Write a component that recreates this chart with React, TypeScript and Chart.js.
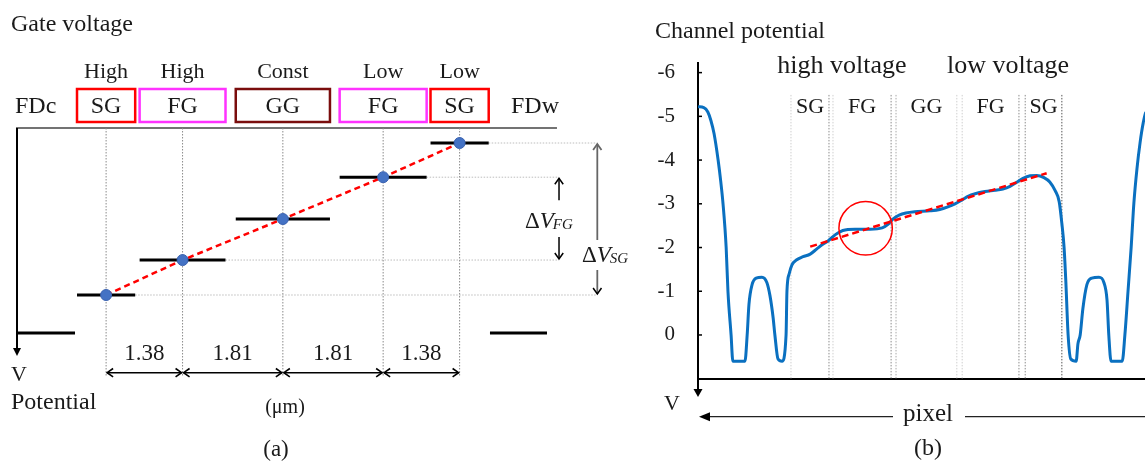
import React, { useEffect, useRef } from 'react';
import { Chart, registerables } from 'chart.js';
Chart.register(...registerables);

const FONT = '"Liberation Serif", "Times New Roman", serif';
const TXT = '#1a1a1a';

// ---------- Panel (a) data ----------
const gateNames = ['SG', 'FG', 'GG', 'FG', 'SG'];
const gateStates = ['High', 'High', 'Const', 'Low', 'Low'];
const gateSpacing = [1.38, 1.81, 1.81, 1.38]; // µm between gate centres
const gateLengths = [1.05, 1.55, 1.7, 1.57, 1.05]; // µm
const gateLevels = [1.0, 1.92, 3.0, 4.1, 5.0]; // potential under each gate
const fdLevel = 0;
const fdcSpan = [-1.608, -0.561];
const fdwSpan = [6.928, 7.957];
const spacingLabels = ['1.38', '1.81', '1.81', '1.38'];

// ---------- Panel (b) data ----------
const pixelIdx = [0, 1.3, 2.2, 2.9, 3.6, 4.5, 5.1, 5.6, 6.3, 6.7, 7.4, 7.8, 10.5, 11.0, 11.4, 12.1, 13.0, 14.3, 15.4, 16.1, 16.8, 17.2, 17.9, 18.8, 19.7, 19.9, 20.4, 21.0, 22.1, 23.5, 25.1, 26.6, 28.0, 29.1, 30.2, 31.3, 32.4, 35.1, 38.5, 41.2, 42.5, 43.6, 45.0, 46.5, 48.5, 51.9, 54.1, 55.9, 57.5, 59.1, 60.4, 62.0, 64.2, 66.4, 68.2, 69.8, 71.4, 72.7, 74.3, 75.8, 77.4, 78.7, 79.9, 80.8, 81.4, 81.9, 82.3, 82.8, 83.4, 84.6, 85.0, 85.5, 86.1, 87.0, 88.1, 89.7, 90.8, 91.5, 91.9, 92.4, 94.9, 95.5, 96.2, 96.9, 97.5, 98.2, 98.9, 99.6, 100.2, 101.1];
const potential = [-5.22, -5.2, -5.1, -4.9, -4.6, -4.0, -3.5, -3.0, -2.0, -1.0, 0, 0.6, 0.6, 0.0, -0.7, -1.15, -1.3, -1.32, -1.2, -0.9, -0.4, 0, 0.55, 0.6, 0, -1.0, -1.4, -1.6, -1.72, -1.79, -1.85, -1.97, -2.08, -2.15, -2.25, -2.33, -2.39, -2.42, -2.42, -2.45, -2.53, -2.65, -2.74, -2.79, -2.82, -2.84, -2.87, -2.93, -3.0, -3.09, -3.17, -3.23, -3.28, -3.31, -3.34, -3.4, -3.5, -3.58, -3.64, -3.65, -3.6, -3.5, -3.3, -3.05, -2.55, -2.0, -1.2, 0, 0.55, 0.6, 0.2, 0, -0.6, -1.15, -1.3, -1.32, -1.2, -0.8, 0, 0.6, 0.6, 0, -1.0, -2.0, -3.0, -3.8, -4.4, -4.85, -5.1, -5.2];
const trendX = [25.1, 78.0];
const trendY = [-2.02, -3.7];
const circleCenter = { x: 37.5, y: -2.44 };
const boundaries = [20.8, 29.3, 30.2, 43.2, 44.3, 57.9, 59.1, 71.8, 73.2, 81.4];
const boundaryShade = ['#cfcfcf', '#8c8c8c', '#cfcfcf', '#8c8c8c', '#a8a8a8', '#cfcfcf', '#cfcfcf', '#8c8c8c', '#8c8c8c', '#555555'];
const yTicks = [-6, -5, -4, -3, -2, -1, 0];

function line(ctx: CanvasRenderingContext2D, x1: number, y1: number, x2: number, y2: number) {
  ctx.beginPath();
  ctx.moveTo(x1, y1);
  ctx.lineTo(x2, y2);
  ctx.stroke();
}
function chevron(ctx: CanvasRenderingContext2D, x: number, y: number, dir: string, s: number) {
  ctx.beginPath();
  if (dir === 'r') { ctx.moveTo(x - s, y - s * 0.7); ctx.lineTo(x, y); ctx.lineTo(x - s, y + s * 0.7); }
  if (dir === 'l') { ctx.moveTo(x + s, y - s * 0.7); ctx.lineTo(x, y); ctx.lineTo(x + s, y + s * 0.7); }
  if (dir === 'u') { ctx.moveTo(x - s * 0.7, y + s); ctx.lineTo(x, y); ctx.lineTo(x + s * 0.7, y + s); }
  if (dir === 'd') { ctx.moveTo(x - s * 0.7, y - s); ctx.lineTo(x, y); ctx.lineTo(x + s * 0.7, y - s); }
  ctx.stroke();
}
function tri(ctx: CanvasRenderingContext2D, x: number, y: number, dir: string, len: number, half: number) {
  ctx.beginPath();
  ctx.moveTo(x, y);
  if (dir === 'd') { ctx.lineTo(x - half, y - len); ctx.lineTo(x + half, y - len); }
  if (dir === 'l') { ctx.lineTo(x + len, y - half); ctx.lineTo(x + len, y + half); }
  ctx.closePath();
  ctx.fill();
}
function text(ctx: CanvasRenderingContext2D, s: string, x: number, y: number, size: number, align: CanvasTextAlign = 'left', style = '') {
  ctx.font = `${style} ${size}px ${FONT}`;
  ctx.textAlign = align;
  ctx.textBaseline = 'alphabetic';
  ctx.fillStyle = TXT;
  ctx.fillText(s, x, y);
}
function deltaV(ctx: CanvasRenderingContext2D, x: number, base: number, sub: string) {
  ctx.fillStyle = TXT;
  ctx.textAlign = 'left';
  ctx.textBaseline = 'alphabetic';
  ctx.font = `23px ${FONT}`;
  ctx.fillText('Δ', x, base);
  let w = ctx.measureText('Δ').width;
  ctx.font = `italic 23px ${FONT}`;
  ctx.fillText('V', x + w, base);
  w += ctx.measureText('V').width;
  ctx.font = `italic 15px ${FONT}`;
  ctx.fillText(sub, x + w - 1, base + 1);
}

export default function App() {
  const refA = useRef<HTMLCanvasElement>(null);
  const refB = useRef<HTMLCanvasElement>(null);

  useEffect(() => {
    // ---------- Panel (a) ----------
    const centers = gateSpacing.reduce((acc: number[], s) => { acc.push(acc[acc.length - 1] + s); return acc; }, [0]);
    const frameTop = 5.395;
    const frameLeft = -1.608;
    const frameRight = 8.137;
    const dimLevel = -1.045;
    const dimBottom = -1.13;
    const fgArrowX = 8.174;
    const sgArrowX = 8.865;
    const pts = centers.map((c, i) => ({ x: c, y: gateLevels[i] }));
    const dsA: any[] = [];
    dsA.push({ data: pts, showLine: false, pointRadius: 5.5, pointBackgroundColor: '#4472c4', pointBorderColor: '#3a62b0', pointBorderWidth: 1, order: 0 });
    dsA.push({ data: pts, borderColor: '#ff0000', borderWidth: 2.5, borderDash: [6, 4], pointRadius: 0, order: 1 });
    centers.forEach((c, i) => dsA.push({ data: [{ x: c - gateLengths[i] / 2, y: gateLevels[i] }, { x: c + gateLengths[i] / 2, y: gateLevels[i] }], borderColor: '#000', borderWidth: 3, pointRadius: 0, order: 2 }));
    [fdcSpan, fdwSpan].forEach(s => dsA.push({ data: [{ x: s[0], y: fdLevel }, { x: s[1], y: fdLevel }], borderColor: '#000', borderWidth: 3, pointRadius: 0, order: 2 }));
    centers.forEach(c => dsA.push({ data: [{ x: c, y: frameTop }, { x: c, y: dimBottom }], borderColor: '#8a8a8a', borderWidth: 1, borderDash: [1.5, 1.5], pointRadius: 0, order: 5 }));
    const guides = [[0, sgArrowX], [1, fgArrowX], [3, fgArrowX], [4, sgArrowX]];
    guides.forEach(([i, to]) => dsA.push({ data: [{ x: centers[i] + gateLengths[i] / 2, y: gateLevels[i] }, { x: to, y: gateLevels[i] }], borderColor: '#bdbdbd', borderWidth: 1, borderDash: [1.5, 1.5], pointRadius: 0, order: 6 }));

    const pluginA = {
      id: 'panelA',
      beforeDatasetsDraw(chart: any) {
        const { ctx, scales: { x, y } } = chart;
        ctx.save();
        const yT = y.getPixelForValue(frameTop);
        ctx.strokeStyle = '#444';
        ctx.lineWidth = 1.5;
        line(ctx, x.getPixelForValue(frameLeft) - 1, yT, x.getPixelForValue(frameRight), yT);
        ctx.strokeStyle = '#000';
        ctx.lineWidth = 2;
        const xl = x.getPixelForValue(frameLeft);
        line(ctx, xl, yT, xl, 349);
        ctx.fillStyle = '#000';
        tri(ctx, xl, 356, 'd', 8, 4);
        ctx.restore();
      },
      afterDatasetsDraw(chart: any) {
        const { ctx, scales: { x, y } } = chart;
        ctx.save();
        text(ctx, 'Gate voltage', 11, 31, 24);
        centers.forEach((c, i) => {
          const px = x.getPixelForValue(c);
          const x1 = x.getPixelForValue(c - gateLengths[i] / 2);
          const x2 = x.getPixelForValue(c + gateLengths[i] / 2);
          text(ctx, gateStates[i], px, 78, 22, 'center');
          ctx.fillStyle = '#fff';
          ctx.fillRect(x1, 89, x2 - x1, 33);
          ctx.strokeStyle = gateNames[i] === 'SG' ? '#ff0000' : gateNames[i] === 'FG' ? '#ff33ff' : '#7a0d0d';
          ctx.lineWidth = 2.5;
          ctx.strokeRect(x1, 89, x2 - x1, 33);
          text(ctx, gateNames[i], px, 113, 24, 'center');
        });
        text(ctx, 'FDc', 15, 113, 24);
        text(ctx, 'FDw', 511, 113, 24);
        // dimension arrows
        const yd = y.getPixelForValue(dimLevel);
        ctx.strokeStyle = '#000';
        ctx.lineWidth = 1.6;
        for (let i = 0; i < gateSpacing.length; i++) {
          const a = x.getPixelForValue(centers[i]) + 1;
          const b = x.getPixelForValue(centers[i + 1]) - 1;
          line(ctx, a, yd, b, yd);
          chevron(ctx, a, yd, 'l', 6);
          chevron(ctx, b, yd, 'r', 6);
          text(ctx, spacingLabels[i], (a + b) / 2, 360, 23, 'center');
        }
        // delta V FG
        const fx = x.getPixelForValue(fgArrowX);
        const y4 = y.getPixelForValue(gateLevels[3]);
        const y2 = y.getPixelForValue(gateLevels[1]);
        ctx.strokeStyle = '#000';
        ctx.lineWidth = 1.5;
        line(ctx, fx, y4 + 1, fx, y4 + 23);
        chevron(ctx, fx, y4 + 1, 'u', 6);
        line(ctx, fx, y2 - 1, fx, y2 - 23);
        chevron(ctx, fx, y2 - 1, 'd', 6);
        deltaV(ctx, 525, 228, 'FG');
        // delta V SG
        const sx = x.getPixelForValue(sgArrowX);
        const y5 = y.getPixelForValue(gateLevels[4]);
        const y1 = y.getPixelForValue(gateLevels[0]);
        ctx.strokeStyle = '#666';
        ctx.lineWidth = 1.8;
        line(ctx, sx, y5 + 1, sx, y1 - 1);
        chevron(ctx, sx, y5 + 1, 'u', 6);
        ctx.strokeStyle = '#000';
        ctx.lineWidth = 1.5;
        chevron(ctx, sx, y1 - 1, 'd', 6);
        ctx.fillStyle = '#fff';
        ctx.fillRect(580, 240, 58, 30);
        deltaV(ctx, 582, 262, 'SG');
        text(ctx, 'V', 11, 381, 22);
        text(ctx, 'Potential', 11, 409, 24);
        text(ctx, '(μm)', 285, 413, 20, 'center');
        text(ctx, '(a)', 276, 456, 23, 'center');
        ctx.restore();
      },
    };

    const a = new Chart(refA.current!, {
      type: 'line',
      data: { datasets: dsA },
      options: {
        animation: false,
        responsive: false,
        devicePixelRatio: 1,
        events: [],
        layout: { padding: 0, autoPadding: false },
        plugins: { legend: { display: false }, tooltip: { enabled: false } },
        scales: {
          x: { type: 'linear', display: false, min: -1.9148, max: 9.6355 },
          y: { type: 'linear', display: false, min: -3.3947, max: 8.7632 },
        },
      },
      plugins: [pluginA],
    } as any);

    // ---------- Panel (b) ----------
    const dsB: any[] = [];
    dsB.push({ data: pixelIdx.map((v, i) => ({ x: v, y: potential[i] })), borderColor: '#0a70c0', borderWidth: 3, pointRadius: 0, cubicInterpolationMode: 'monotone', order: 2 });
    dsB.push({ data: trendX.map((v, i) => ({ x: v, y: trendY[i] })), borderColor: '#ff0000', borderWidth: 2.5, borderDash: [7, 4], pointRadius: 0, order: 1 });
    dsB.push({ data: [circleCenter], showLine: false, pointRadius: 26.7, pointBorderWidth: 1.5, pointBorderColor: '#ff0000', pointBackgroundColor: 'rgba(0,0,0,0)', order: 0 });
    boundaries.forEach((bx, i) => dsB.push({ data: [{ x: bx, y: -5.49 }, { x: bx, y: 1.0 }], borderColor: boundaryShade[i], borderWidth: 1, borderDash: [1.5, 1.5], pointRadius: 0, order: 5 }));

    const pluginB = {
      id: 'panelB',
      afterDraw(chart: any) {
        const { ctx, chartArea, scales: { x, y } } = chart;
        const L = chartArea.left;
        const B = chartArea.bottom;
        ctx.save();
        ctx.strokeStyle = '#000';
        ctx.lineWidth = 1.5;
        yTicks.forEach(t => {
          const py = y.getPixelForValue(t);
          line(ctx, L, py, L + 4, py);
        });
        ctx.lineWidth = 2;
        line(ctx, L, B, L, 390);
        ctx.fillStyle = '#000';
        tri(ctx, L, 397, 'd', 8, 4.5);
        text(ctx, 'Channel potential', 15, 38, 24);
        text(ctx, 'high voltage', 202, 73, 26, 'center');
        text(ctx, 'low voltage', 368, 73, 26, 'center');
        for (let i = 0; i < 5; i++) {
          const cx = (x.getPixelForValue(boundaries[2 * i]) + x.getPixelForValue(boundaries[2 * i + 1])) / 2;
          text(ctx, gateNames[i], cx, 113, 22, 'center');
        }
        text(ctx, 'V', 32, 410, 22, 'center');
        ctx.strokeStyle = '#222';
        ctx.lineWidth = 1.3;
        line(ctx, 68, 416.7, 253, 416.7);
        line(ctx, 325, 416.7, 505, 416.7);
        ctx.fillStyle = '#000';
        tri(ctx, 59, 416.7, 'l', 11, 4.5);
        text(ctx, 'pixel', 288, 421, 25, 'center');
        text(ctx, '(b)', 288, 455, 24, 'center');
        ctx.restore();
      },
    };

    const b = new Chart(refB.current!, {
      type: 'line',
      data: { datasets: dsB },
      options: {
        animation: false,
        responsive: false,
        devicePixelRatio: 1,
        events: [],
        layout: { padding: { top: 63, left: 0, right: 0, bottom: 0 }, autoPadding: false },
        plugins: { legend: { display: false }, tooltip: { enabled: false } },
        scales: {
          x: {
            type: 'linear', min: 0, max: 100,
            ticks: { display: false },
            grid: { display: false, drawTicks: false },
            border: { display: true, color: '#000', width: 2 },
            afterFit: (s: any) => { s.height = 83.3; },
          },
          y: {
            type: 'linear', reverse: true, min: -6.22, max: 1.0,
            afterBuildTicks: (s: any) => { s.ticks = yTicks.map(v => ({ value: v })); },
            ticks: {
              padding: 23,
              color: TXT,
              font: { family: FONT, size: 21 },
              callback: (v: any) => String(v),
            },
            grid: { display: false, drawTicks: false },
            border: { display: true, color: '#000', width: 2 },
            afterFit: (s: any) => { s.width = 58; },
          },
        },
      },
      plugins: [pluginB],
    } as any);

    return () => { a.destroy(); b.destroy(); };
  }, []);

  return (
    <div style={{ position: 'absolute', left: 0, top: 0, width: 1145, height: 462, background: '#fff' }}>
      <canvas ref={refA} width={640} height={462} style={{ position: 'absolute', left: 0, top: 0 }} />
      <canvas ref={refB} width={505} height={462} style={{ position: 'absolute', left: 640, top: 0 }} />
    </div>
  );
}
